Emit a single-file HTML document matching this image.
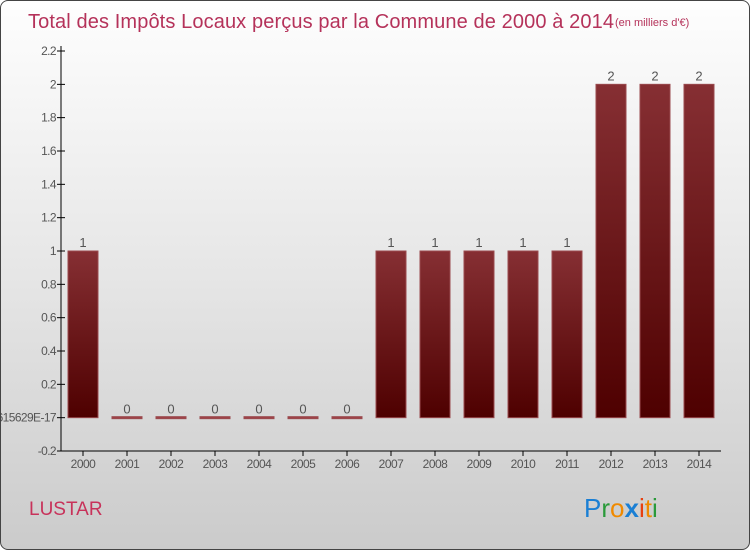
<!DOCTYPE html>
<html><head><meta charset="utf-8"><style>
body{margin:0}
#c{width:748px;height:548px;border:1px solid #444;border-radius:8px;position:relative;overflow:hidden;background:linear-gradient(#fefefe,#e6e6e6 50%,#cbcbcb);font-family:"Liberation Sans",sans-serif}
</style></head><body>
<div id="c">
<svg width="748" height="548" id="s">
<defs><linearGradient id="g" x1="0" y1="0" x2="0" y2="1"><stop offset="0" stop-color="#862f33"/><stop offset="1" stop-color="#4e0000"/></linearGradient></defs>
<text x="27" y="27" font-size="20" fill="#b5325a" textLength="586">Total des Impôts Locaux perçus par la Commune de 2000 à 2014</text>
<text x="614" y="25" font-size="11" fill="#b5325a">(en milliers d'€)</text>
<text x="28" y="514" font-size="19" fill="#c8325a">LUSTAR</text>
<text x="583" y="516" font-size="26"><tspan fill="#1a7fd4">P</tspan><tspan fill="#2a9a3a">r</tspan><tspan fill="#f08a00">o</tspan><tspan fill="#1a7fd4" font-weight="bold">x</tspan><tspan fill="#e84010">i</tspan><tspan fill="#f08a00">t</tspan><tspan fill="#2a9a3a">i</tspan></text>
</svg></div>
<script>
const years=["2000","2001","2002","2003","2004","2005","2006","2007","2008","2009","2010","2011","2012","2013","2014"];
const values=[1,0,0,0,0,0,0,1,1,1,1,1,2,2,2];
const tickVals=[-0.2,0,0.2,0.4,0.6,0.8,1,1.2,1.4,1.6,1.8,2,2.2];
const tickLabels=["-0.2","-2.7755575615629E-17","0.2","0.4","0.6","0.8","1","1.2","1.4","1.6","1.8","2","2.2"];
const s=document.getElementById('s');const NS="http://www.w3.org/2000/svg";
const y=v=>416.67-v*166.67;const x=i=>82+i*44;
function el(t,a,p){const e=document.createElementNS(NS,t);for(const k in a)e.setAttribute(k,a[k]);(p||s).appendChild(e);return e;}
let ax=el('line',{x1:60,y1:45,x2:60,y2:450,stroke:'#000'});


let xa=el('line',{x1:60,y1:450,x2:720,y2:450,stroke:'#000'});


tickVals.forEach((v,i)=>{
 el('line',{x1:56,y1:y(v),x2:64,y2:y(v),stroke:'#000'});
 let t=el('text',{x:55,y:y(v)+4,'font-size':12,fill:'#555','text-anchor':'end','letter-spacing':'-0.6'});
 t.textContent=tickLabels[i];
 
 
});
years.forEach((yr,i)=>{
 el('line',{x1:x(i),y1:450,x2:x(i),y2:455,stroke:'#000'});
 let t=el('text',{x:x(i),y:467,'font-size':12,fill:'#555','text-anchor':'middle','letter-spacing':'-0.5'});
 t.textContent=yr;
 
 
 const v=values[i];
 let b=el('rect',{x:x(i)-15,y:Math.min(y(v),y(0))-(v==0?1:0),width:30,height:Math.max(Math.abs(y(0)-y(v)),2),fill:v==0?'#a04048':'url(#g)',stroke:'#9a4a4e','stroke-width':1});
 
 
 let l=el('text',{x:x(i),y:y(v)-4,'font-size':13,fill:'#555','text-anchor':'middle'});
 l.textContent=v;
 
 
});
</script>
</body></html>
